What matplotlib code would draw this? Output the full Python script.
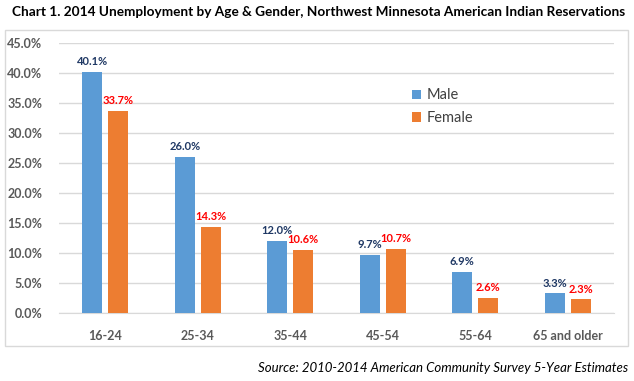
import matplotlib
matplotlib.use("Agg")
import matplotlib.pyplot as plt
import numpy as np
from matplotlib.patches import Rectangle
from matplotlib.ticker import FuncFormatter

plt.rcParams['font.family'] = ['Lato', 'DejaVu Sans']

# data
ages = ['16-24', '25-34', '35-44', '45-54', '55-64', '65 and older']
male = [40.1, 26.0, 12.0, 9.7, 6.9, 3.3]
female = [33.7, 14.3, 10.6, 10.7, 2.6, 2.3]

blue = '#5B9BD5'
orange = '#ED7D31'

fig = plt.figure(figsize=(6.34, 3.81), dpi=100)
ax = fig.add_axes([0.0931, 0.1777, 0.8754, 0.7103])

x = np.arange(len(ages))
w = 0.216
off = 0.14
ax.bar(x - off, male, w, color=blue, label='Male', zorder=3)
ax.bar(x + off, female, w, color=orange, label='Female', zorder=3)

for i in range(len(ages)):
    ax.text(x[i] - off, male[i] + 0.8, f'{male[i]:.1f}%', ha='center', va='bottom',
            fontsize=8, fontweight='bold', color='#1F3864')
    ax.text(x[i] + off, female[i] + 0.8, f'{female[i]:.1f}%', ha='center', va='bottom',
            fontsize=8, fontweight='bold', color='#FF0000')

ax.set_xlim(-0.5, len(ages) - 0.5)
ax.set_ylim(0, 45)
ax.set_yticks(np.arange(0, 46, 5))
ax.yaxis.set_major_formatter(FuncFormatter(lambda v, p: f'{v:.1f}%'))
ax.set_xticks(x)
ax.set_xticklabels(ages)
ax.grid(axis='y', color='#D9D9D9', linewidth=1, zorder=0)
for s in ['top', 'right', 'left']:
    ax.spines[s].set_visible(False)
ax.spines['bottom'].set_color('#D9D9D9')
ax.tick_params(length=0, labelsize=9, labelcolor='#595959', pad=12)
ax.tick_params(axis='y', pad=12)
for lab in ax.get_xticklabels() + ax.get_yticklabels():
    lab.set_fontweight('bold')

ax.legend(loc='upper left', bbox_to_anchor=(0.612, 0.88), frameon=False, fontsize=10.5,
          handlelength=0.6, handleheight=0.6, handletextpad=0.4, labelspacing=0.6,
          labelcolor='#404040')

# chart border
fig.patches.append(Rectangle((5 / 634, 1 - 346 / 381), 623 / 634, 316 / 381,
                             transform=fig.transFigure, fill=False,
                             edgecolor='#D9D9D9', linewidth=1))

title = fig.text(12 / 634, 1 - 12 / 381,
                 'Chart 1. 2014 Unemployment by Age & Gender, Northwest Minnesota American Indian Reservations',
                 ha='left', va='center', fontsize=10.5, fontweight='bold', color='black')
# shrink the title until it fits the same width as in the original
r = fig.canvas.get_renderer()
fs = 10.5
while title.get_window_extent(r).width > 614 and fs > 6:
    fs -= 0.1
    title.set_fontsize(fs)

fig.text(628 / 634, 1 - 368 / 381, 'Source: 2010-2014 American Community Survey 5-Year Estimates',
         ha='right', va='center', fontsize=9.5, style='italic', color='black')

fig.savefig('out.png', dpi=100)
